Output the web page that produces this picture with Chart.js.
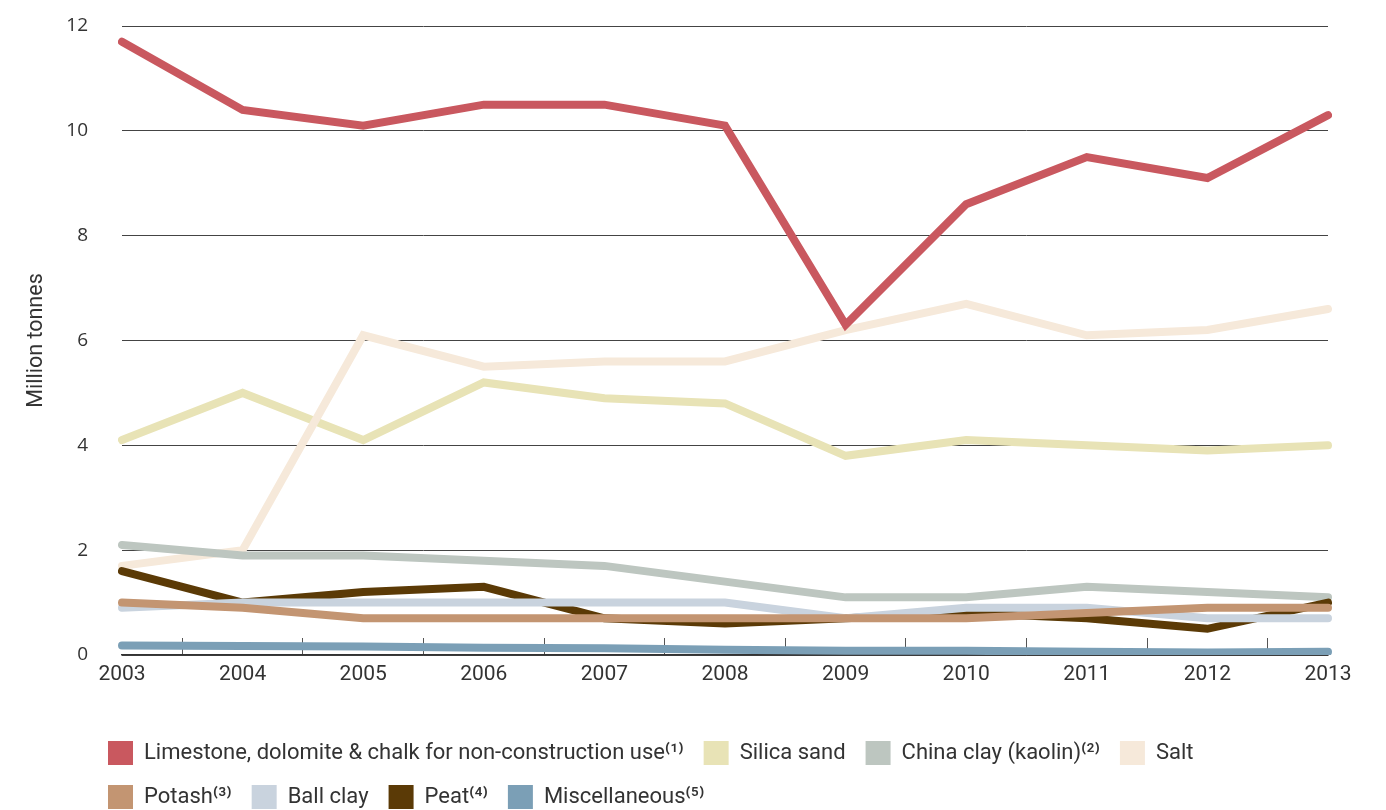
<!DOCTYPE html>
<html>
<head>
<meta charset="utf-8">
<script src="https://cdn.jsdelivr.net/npm/chart.js@4.4.1/dist/chart.umd.min.js"></script>
<style>
  html, body { margin: 0; padding: 0; background: #ffffff; }
  #wrap { width: 1386px; height: 810px; position: relative; }
</style>
</head>
<body>
<div id="wrap"><canvas id="c"></canvas></div>
<script>
const years = ['2003','2004','2005','2006','2007','2008','2009','2010','2011','2012','2013'];
const yTicks = [0, 2, 4, 6, 8, 10, 12];

const limestone = [11.7, 10.4, 10.1, 10.5, 10.5, 10.1, 6.3, 8.6, 9.5, 9.1, 10.3];
const silicaSand = [4.1, 5.0, 4.1, 5.2, 4.9, 4.8, 3.8, 4.1, 4.0, 3.9, 4.0];
const chinaClay = [2.1, 1.9, 1.9, 1.8, 1.7, 1.4, 1.1, 1.1, 1.3, 1.2, 1.1];
const salt = [1.7, 2.0, 6.1, 5.5, 5.6, 5.6, 6.2, 6.7, 6.1, 6.2, 6.6];
const potash = [1.0, 0.9, 0.7, 0.7, 0.7, 0.7, 0.7, 0.7, 0.8, 0.9, 0.9];
const ballClay = [0.9, 1.0, 1.0, 1.0, 1.0, 1.0, 0.7, 0.9, 0.9, 0.7, 0.7];
const peat = [1.6, 1.0, 1.2, 1.3, 0.7, 0.6, 0.7, 0.8, 0.7, 0.5, 1.0];
const misc = [0.18, 0.17, 0.16, 0.14, 0.13, 0.10, 0.08, 0.08, 0.06, 0.05, 0.06];

const seriesNames = [
  'Limestone, dolomite & chalk for non-construction use\u207D\u00B9\u207E',
  'Silica sand',
  'China clay (kaolin)\u207D\u00B2\u207E',
  'Salt',
  'Potash\u207D\u00B3\u207E',
  'Ball clay',
  'Peat\u207D\u2074\u207E',
  'Miscellaneous\u207D\u2075\u207E'
];
const seriesData = [limestone, silicaSand, chinaClay, salt, potash, ballClay, peat, misc];
const seriesColors = ['#c9585f', '#e8e3b6', '#bdc6c0', '#f6e9da', '#c39572', '#c9d3de', '#5b3a06', '#7b9fb6'];
const drawOrder = [0, 7, 5, 6, 2, 3, 4, 1];

const datasets = seriesNames.map((name, i) => ({
  label: name,
  data: seriesData[i],
  borderColor: seriesColors[i],
  backgroundColor: seriesColors[i],
  borderWidth: 8,
  pointRadius: 0,
  pointHoverRadius: 0,
  tension: 0,
  fill: false,
  borderCapStyle: 'round',
  borderJoinStyle: 'miter',
  order: drawOrder[i]
}));

const legendPlace = {
  id: 'legendPlace',
  afterLayout(chart) {
    const lg = chart.legend;
    if (!lg) return;
    lg.left = 88;
    lg.right = 1250;
    lg.top = 721;
    lg.bottom = lg.top + lg.height;
  }
};

Chart.defaults.color = '#333333';

new Chart(document.getElementById('c'), {
  type: 'line',
  data: { labels: years, datasets: datasets },
  plugins: [legendPlace],
  options: {
    responsive: true,
    maintainAspectRatio: false,
    animation: false,
    layout: { padding: { top: 26, right: 58, left: 0, bottom: 0 } },
    plugins: {
      tooltip: { enabled: false },
      legend: {
        position: 'bottom',
        align: 'start',
        labels: {
          boxWidth: 25,
          boxHeight: 24,
          padding: 20,
          color: '#333333',
          font: { family: 'Roboto', size: 22 },
          sort: (a, b) => a.datasetIndex - b.datasetIndex,
          generateLabels: (chart) => Chart.defaults.plugins.legend.labels.generateLabels(chart).map(l => Object.assign(l, { lineWidth: 0, fillStyle: l.strokeStyle }))
        }
      }
    },
    scales: {
      x: {
        type: 'category',
        offset: false,
        afterFit: (s) => { s.height = 57; },
        grid: {
          display: true,
          offset: true,
          drawOnChartArea: false,
          drawTicks: true,
          tickLength: -17,
          tickColor: '#555555',
          tickWidth: 1
        },
        border: { display: true, color: '#333333', width: 1.5 },
        ticks: {
          padding: 24,
          maxRotation: 0,
          autoSkip: false,
          color: '#333333',
          font: { family: 'Roboto', size: 21 }
        }
      },
      y: {
        min: 0,
        max: 12,
        afterFit: (s) => { s.width = 122; s.paddingTop = 0; s.paddingBottom = 0; },
        afterBuildTicks: (s) => { s.ticks = yTicks.map(v => ({ value: v })); },
        grid: { color: '#444444', lineWidth: 1, drawTicks: false },
        border: { display: false },
        ticks: {
          padding: 34,
          color: '#333333',
          font: { family: 'Open Sans', size: 19 }
        },
        title: {
          display: true,
          text: 'Million tonnes',
          color: '#333333',
          font: { family: 'Roboto', size: 21.5 },
          padding: { top: 24, bottom: 0 }
        }
      }
    }
  }
});
</script>
</body>
</html>
